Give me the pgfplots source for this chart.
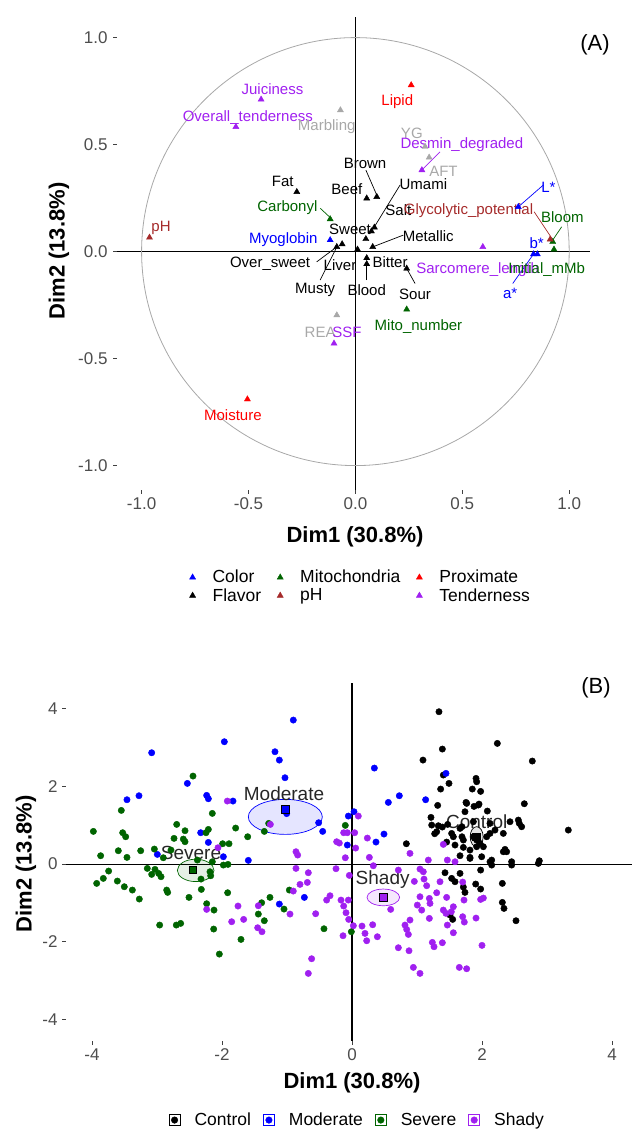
\documentclass[border=0pt]{standalone}
\usepackage{fontspec}
\setmainfont{Liberation Sans}
\usepackage{pgfplots}
\pgfplotsset{compat=1.18}
\definecolor{cblue}{RGB}{0,0,255}
\definecolor{cgreen}{RGB}{0,100,0}
\definecolor{cbrown}{RGB}{165,42,42}
\definecolor{cred}{RGB}{255,0,0}
\definecolor{cpurple}{RGB}{160,32,240}
\definecolor{cgray}{RGB}{168,168,168}
\definecolor{tickgray}{RGB}{77,77,77}
\newcommand{\fs}[1]{\fontsize{#1}{#1}\selectfont}
\begin{document}
\begin{tikzpicture}
\useasboundingbox (0pt,0pt) rectangle (636pt,1135pt);
% ================= Panel A =================
\begin{axis}[
  at={(117pt,645pt)}, anchor=south west,
  x=213.8pt, y=214pt,
  xmin=-1.115, xmax=1.098, ymin=-1.114, ymax=1.096,
  axis line style={draw=none},
  tick pos=left, tick align=outside, major tick length=4pt,
  tick style={draw=black!75, line width=0.8pt},
  xtick={-1,-0.5,0,0.5,1}, xticklabels={-1.0,-0.5,0.0,0.5,1.0},
  ytick={-1,-0.5,0,0.5,1}, yticklabels={-1.0,-0.5,0.0,0.5,1.0},
  ticklabel style={font=\fs{17}, text=tickgray},
  yticklabel style={xshift=-2pt},
  clip=false,
  legend columns=3, legend cell align=left,
  legend style={draw=none, fill=none, at={(0.512,-0.204)}, anchor=center, font=\fs{17.5},
    /tikz/every even column/.append style={column sep=11pt}},
  legend image code/.code={\path[draw=none,fill=none] (0pt,-4pt) rectangle (24pt,4pt); \draw[#1] plot coordinates {(6pt,0pt)};},
]
\addplot[black, line width=1.1pt, forget plot] coordinates {(-1.115,0) (1.098,0)};
\addplot[black, line width=1.1pt, forget plot] coordinates {(0,-1.114) (0,1.096)};
\draw[cgray, line width=0.8pt] (axis cs:0,0) ellipse [x radius=1, y radius=1];
% supplementary (gray)
\addplot[only marks, mark=triangle*, mark size=3.5pt, color=cgray, forget plot] coordinates {
(-0.070,0.661) (0.326,0.490) (0.345,0.440) (-0.087,-0.297)};
% Color
\addplot[only marks, mark=triangle*, mark size=3.5pt, color=cblue] coordinates {
(-0.118,0.054) (0.762,0.209) (0.851,-0.012) (0.833,-0.012)};
\addlegendentry{Color}
% Mitochondria
\addplot[only marks, mark=triangle*, mark size=3.5pt, color=cgreen] coordinates {
(-0.118,0.152) (0.240,-0.270) (0.929,0.010) (0.923,0.046)};
\addlegendentry{Mitochondria}
% Proximate
\addplot[only marks, mark=triangle*, mark size=3.5pt, color=cred] coordinates {
(0.261,0.778) (-0.505,-0.690)};
\addlegendentry{Proximate}
% Flavor
\addplot[only marks, mark=triangle*, mark size=3.5pt, color=black] coordinates {
(-0.274,0.279) (0.053,0.249) (0.100,0.256) (0.089,0.113) (0.075,0.095) (0.049,0.059)
(0.081,0.022) (-0.087,0.022) (-0.062,0.035) (0.010,0.010) (0.053,-0.030) (0.053,-0.058) (0.240,-0.079)};
\addlegendentry{Flavor}
% pH
\addplot[only marks, mark=triangle*, mark size=3.5pt, color=cbrown] coordinates {
(-0.963,0.066) (0.911,0.057)};
\addlegendentry{pH}
% Tenderness
\addplot[only marks, mark=triangle*, mark size=3.5pt, color=cpurple] coordinates {
(-0.441,0.711) (-0.559,0.583) (0.311,0.381) (0.596,0.022) (-0.100,-0.429)};
\addlegendentry{Tenderness}
% segments
\draw[cgreen, line width=0.7pt] (axis cs:-0.164,0.202) -- (axis cs:-0.122,0.163);
\draw[black, line width=0.7pt] (axis cs:0.049,0.381) -- (axis cs:0.100,0.264);
\draw[black, line width=0.7pt] (axis cs:0.209,0.311) -- (axis cs:0.084,0.108);
\draw[black, line width=0.7pt] (axis cs:0.224,0.077) -- (axis cs:0.081,0.022);
\draw[black, line width=0.7pt] (axis cs:-0.181,-0.048) -- (axis cs:-0.087,0.022);
\draw[black, line width=0.7pt] (axis cs:-0.165,-0.133) -- (axis cs:-0.090,0.015);
\draw[black, line width=0.7pt] (axis cs:0.053,-0.133) -- (axis cs:0.053,-0.055);
\draw[black, line width=0.7pt] (axis cs:0.279,-0.149) -- (axis cs:0.240,-0.079);
\draw[cgreen, line width=0.7pt] (axis cs:0.965,0.116) -- (axis cs:0.923,0.054);
\draw[cbrown, line width=0.7pt] (axis cs:0.836,0.186) -- (axis cs:0.919,0.062);
\draw[cblue, line width=0.7pt] (axis cs:0.736,-0.149) -- (axis cs:0.833,-0.012);
\draw[cblue, line width=0.7pt] (axis cs:0.879,0.311) -- (axis cs:0.762,0.209);
\draw[cpurple, line width=0.7pt] (axis cs:0.396,0.466) -- (axis cs:0.311,0.381);
% labels
\begin{scope}[every node/.style={font=\fs{15}, inner sep=0pt}]
\node[text=cpurple] at (axis cs:-0.388,0.758) {Juiciness};
\node[text=cpurple] at (axis cs:-0.503,0.627) {Overall\_tenderness};
\node[text=cgray] at (axis cs:-0.134,0.586) {Marbling};
\node[text=cred] at (axis cs:0.196,0.700) {Lipid};
\node[text=cbrown] at (axis cs:-0.909,0.113) {pH};
\node[text=black] at (axis cs:-0.340,0.326) {Fat};
\node[text=cgreen] at (axis cs:-0.318,0.205) {Carbonyl};
\node[text=cblue] at (axis cs:-0.337,0.057) {Myoglobin};
\node[text=black] at (axis cs:-0.025,0.104) {Sweet};
\node[text=black] at (axis cs:0.045,0.412) {Brown};
\node[text=black] at (axis cs:-0.040,0.291) {Beef};
\node[text=black] at (axis cs:0.318,0.315) {Umami};
\node[text=black] at (axis cs:0.201,0.194) {Salt};
\node[text=black] at (axis cs:0.341,0.072) {Metallic};
\node[text=black] at (axis cs:-0.399,-0.055) {Over\_sweet};
\node[text=black] at (axis cs:-0.072,-0.063) {Liver};
\node[text=black] at (axis cs:-0.188,-0.180) {Musty};
\node[text=black] at (axis cs:0.053,-0.180) {Blood};
\node[text=black] at (axis cs:0.162,-0.048) {Bitter};
\node[text=black] at (axis cs:0.279,-0.199) {Sour};
\node[text=cgray] at (axis cs:0.264,0.552) {YG};
\node[text=cpurple] at (axis cs:0.498,0.501) {Desmin\_degraded};
\node[text=cgray] at (axis cs:0.412,0.373) {AFT};
\node[text=cbrown] at (axis cs:0.529,0.191) {Glycolytic\_potential};
\node[text=cpurple] at (axis cs:0.572,-0.086) {Sarcomere\_length};
\node[text=cgreen] at (axis cs:0.895,-0.086) {Initial\_mMb};
\node[text=cgreen] at (axis cs:0.295,-0.348) {Mito\_number};
\node[text=cgreen] at (axis cs:0.968,0.160) {Bloom};
\node[text=cblue] at (axis cs:0.848,0.038) {b*};
\node[text=cblue] at (axis cs:0.724,-0.195) {a*};
\node[text=cblue] at (axis cs:0.903,0.300) {L*};
\node[text=cgray] at (axis cs:-0.165,-0.375) {REA};
\node[text=cpurple] at (axis cs:-0.040,-0.379) {SSF};
\node[text=cred] at (axis cs:-0.573,-0.764) {Moisture};
\end{scope}
\end{axis}
\node[font=\fs{22}\bfseries] at (355pt,598pt) {Dim1 (30.8\%)};
\node[font=\fs{22}\bfseries, rotate=90] at (59pt,884pt) {Dim2 (13.8\%)};
\node[font=\fs{22}] at (595pt,1090pt) {(A)};
% ================= Panel B =================
\begin{axis}[
  at={(66pt,94pt)}, anchor=south west,
  x=65pt, y=38.8pt,
  xmin=-4.40, xmax=4.30, ymin=-4.56, ymax=4.66,
  axis line style={draw=none},
  tick pos=left, tick align=outside, major tick length=4pt,
  tick style={draw=black!75, line width=0.8pt},
  xtick={-4,-2,0,2,4}, xticklabels={-4,-2,0,2,4},
  ytick={-4,-2,0,2,4}, yticklabels={-4,-2,0,2,4},
  ticklabel style={font=\fs{17}, text=tickgray},
  yticklabel style={xshift=-1pt},
  clip=false,
  legend columns=4, legend cell align=left,
  legend style={draw=none, fill=none, at={(0.515,-0.221)}, anchor=center, font=\fs{17.5},
    /tikz/every even column/.append style={column sep=10pt}},
  legend image code/.code={\path[draw=none,fill=none] (0pt,-5.5pt) rectangle (23.5pt,5.5pt); \draw[#1, fill=white, line width=0.9pt] (0pt,-5.5pt) rectangle (11pt,5.5pt); \fill[#1] (5.5pt,0pt) circle (3.3pt);},
]
\addplot[black, line width=1.1pt, forget plot] coordinates {(-4.40,0) (4.30,0)};
\addplot[black, line width=1.1pt, forget plot] coordinates {(0,-4.56) (0,4.66)};
% Control
\addplot[only marks, mark=*, mark size=3.2pt, color=black] table {
1.338 3.926
2.236 3.110
1.390 2.964
2.774 2.655
1.092 2.680
1.405 2.294
1.492 2.079
1.908 2.208
1.918 2.122
1.851 1.933
1.979 1.873
1.364 1.933
1.318 1.512
1.754 1.589
1.877 1.486
1.954 1.546
2.082 1.366
2.651 1.555
1.738 1.349
1.215 1.203
1.328 0.988
1.390 0.954
1.272 0.782
1.472 1.022
1.533 0.790
1.692 0.962
1.867 1.091
2.431 1.091
2.574 1.048
2.610 0.962
3.328 0.876
0.836 0.524
1.456 0.567
1.585 0.490
1.692 0.704
1.713 0.430
1.867 0.704
1.918 0.619
1.969 0.533
2.072 0.704
2.123 0.790
2.200 0.876
2.328 0.790
1.815 0.361
1.918 0.447
2.021 0.447
1.662 0.215
1.815 0.172
1.995 0.189
2.123 0.060
2.149 -0.026
2.328 0.318
2.354 0.378
2.456 0.060
2.456 -0.026
2.882 0.086
2.867 0.017
1.431 -0.223
1.662 -0.241
1.533 -0.369
1.585 -0.455
1.903 -0.515
1.979 -0.644
1.713 -0.593
1.738 -0.730
1.979 -0.155
2.313 -0.498
2.313 -0.988
2.338 -1.143
2.523 -1.460
1.549 -1.426
1.508 -1.314
1.662 0.919
1.559 0.704
1.303 0.833
1.226 1.005
1.713 0.619
2.123 1.048
2.559 1.134
2.379 0.318
1.815 0.146
2.149 0.103
1.944 1.521
1.764 1.564
};
\addlegendentry{Control}
% Moderate
\addplot[only marks, mark=*, mark size=3.2pt, color=cblue] table {
-0.903 3.711
-1.964 3.153
-3.082 2.869
-1.185 2.895
-1.118 2.680
-1.031 2.225
-2.533 2.079
-2.236 1.770
-2.210 1.684
-3.277 1.761
-3.462 1.658
-1.831 1.624
-0.513 1.065
-0.451 0.842
-2.328 0.808
-2.210 0.558
-2.995 0.249
-1.979 0.189
-1.595 0.095
-0.733 -0.859
-1.118 -1.031
-0.056 1.237
0.031 1.349
-0.072 0.490
-1.005 1.300
0.344 2.474
1.446 2.337
0.559 1.589
0.728 1.761
1.133 1.658
0.492 0.773
0.369 0.567
};
\addlegendentry{Moderate}
% Severe
\addplot[only marks, mark=*, mark size=3.2pt, color=cgreen] table {
-2.446 2.268
-3.549 1.383
-2.149 1.306
-3.979 0.842
-2.697 1.022
-3.528 0.808
-3.482 0.704
-2.569 0.859
-2.738 0.662
-2.595 0.644
-2.569 0.576
-2.246 0.808
-2.210 0.893
-1.790 0.928
-1.605 0.704
-1.349 0.842
-1.282 1.048
-1.990 0.524
-1.892 0.524
-3.595 0.344
-3.462 0.172
-3.251 0.344
-3.867 0.215
-3.041 0.387
-2.903 0.163
-2.785 0.361
-2.446 -0.155
-2.379 0.103
-2.149 0.060
-1.979 -0.026
-1.908 -0.009
-3.149 -0.112
-3.031 -0.137
-2.974 -0.241
-3.082 -0.266
-2.938 -0.326
-3.744 -0.180
-3.826 -0.369
-3.928 -0.498
-3.610 -0.438
-3.503 -0.584
-3.379 -0.670
-3.272 -0.902
-2.851 -0.670
-2.836 -0.730
-2.508 -0.859
-2.318 -0.653
-2.323 -0.387
-2.185 -0.198
-2.174 -0.301
-1.913 -0.739
-2.236 -1.022
-2.123 -1.186
-1.262 -0.859
-1.390 -0.997
-1.441 -1.289
-1.349 -1.460
-1.046 -1.160
-0.964 -0.670
-2.959 -1.572
-2.703 -1.572
-2.636 -1.529
-2.128 -1.675
-1.708 -1.942
-2.041 -2.320
-0.431 -1.667
-0.010 -1.744
-0.103 0.997
};
\addlegendentry{Severe}
% Shady
\addplot[only marks, mark=*, mark size=3.2pt, color=cpurple] table {
-1.918 1.624
-1.256 1.022
-2.062 0.421
-0.862 0.318
-0.836 0.232
-0.862 -0.112
-0.672 -0.223
-0.800 -0.524
-0.687 -0.473
-0.903 -0.696
-0.246 -0.120
-0.041 -0.292
-0.103 0.163
0.056 0.412
-0.236 0.576
-0.195 0.541
-0.128 0.808
-0.072 0.808
0.041 0.808
-0.390 -0.928
-0.338 -0.816
-0.169 -0.928
-0.128 -1.082
-0.092 -1.254
-0.051 -1.426
-0.056 -0.928
-0.954 -1.289
-0.559 -1.280
-1.754 -1.082
-1.441 -1.074
-1.667 -1.426
-1.851 -1.486
-1.451 -1.641
-1.385 -1.744
-2.236 -1.168
-0.621 -2.440
-0.672 -2.818
-0.138 -1.847
0.021 -1.589
0.097 1.237
0.236 0.670
0.267 0.172
0.892 0.275
0.328 -0.043
0.713 -0.155
1.046 -0.129
1.097 -0.198
1.174 0.103
1.467 0.103
1.585 0.060
1.405 0.507
0.959 -0.447
1.108 -0.387
1.149 -0.558
1.354 -0.455
1.703 -0.464
1.303 -0.739
1.190 -0.885
1.200 -1.014
1.046 -0.842
1.005 -1.057
1.072 -1.186
1.456 -0.859
1.723 -0.928
1.979 -0.911
2.021 -0.876
1.405 -1.186
1.446 -1.271
1.559 -1.100
1.528 -1.229
1.703 -1.357
1.728 -1.495
1.908 -1.392
0.472 -0.859
0.595 -1.168
0.318 -1.564
0.154 -1.598
0.200 -1.787
0.226 -1.976
0.390 -1.873
0.892 -1.443
0.815 -1.572
0.841 -1.684
0.867 -1.813
0.713 -2.156
0.877 -2.234
1.190 -1.400
1.236 -2.019
1.262 -2.131
1.390 -2.027
1.467 -1.572
1.559 -1.770
2.000 -2.096
0.944 -2.663
1.046 -2.818
1.651 -2.663
1.764 -2.698
};
\addlegendentry{Shady}
% ellipses
\draw[black, fill=black, fill opacity=0.1, line width=0.7pt] (axis cs:1.918,0.704) ellipse [x radius=0.10, y radius=0.26];
\draw[cblue, fill=cblue, fill opacity=0.1, line width=0.7pt] (axis cs:-1.026,1.216) ellipse [x radius=0.569, y radius=0.451];
\draw[cgreen, fill=cgreen, fill opacity=0.1, line width=0.7pt] (axis cs:-2.405,-0.163) ellipse [x radius=0.282, y radius=0.288];
\draw[cpurple, fill=cpurple, fill opacity=0.1, line width=0.7pt] (axis cs:0.482,-0.859) ellipse [x radius=0.251, y radius=0.215];
% group means
\addplot[only marks, mark=square*, mark size=3.8pt, draw=black, fill=black, line width=0.8pt, forget plot] coordinates {(1.918,0.704)};
\addplot[only marks, mark=square*, mark size=3.8pt, draw=black, fill=cblue, line width=0.8pt, forget plot] coordinates {(-1.021,1.409)};
\addplot[only marks, mark=square*, mark size=3.8pt, draw=black, fill=cgreen, line width=0.8pt, forget plot] coordinates {(-2.446,-0.155)};
\addplot[only marks, mark=square*, mark size=3.8pt, draw=black, fill=cpurple, line width=0.8pt, forget plot] coordinates {(0.482,-0.859)};
\begin{scope}[every node/.style={font=\fs{19}, inner sep=0pt, text=black!85}]
\node at (axis cs:-1.046,1.804) {Moderate};
\node at (axis cs:-2.477,0.275) {Severe};
\node at (axis cs:0.472,-0.395) {Shady};
\node at (axis cs:1.918,1.09) {Control};
\end{scope}
\end{axis}
\node[font=\fs{22}\bfseries] at (352pt,52pt) {Dim1 (30.8\%)};
\node[font=\fs{22}\bfseries, rotate=90] at (26pt,271pt) {Dim2 (13.8\%)};
\node[font=\fs{22}] at (596pt,447pt) {(B)};
\end{tikzpicture}
\end{document}
